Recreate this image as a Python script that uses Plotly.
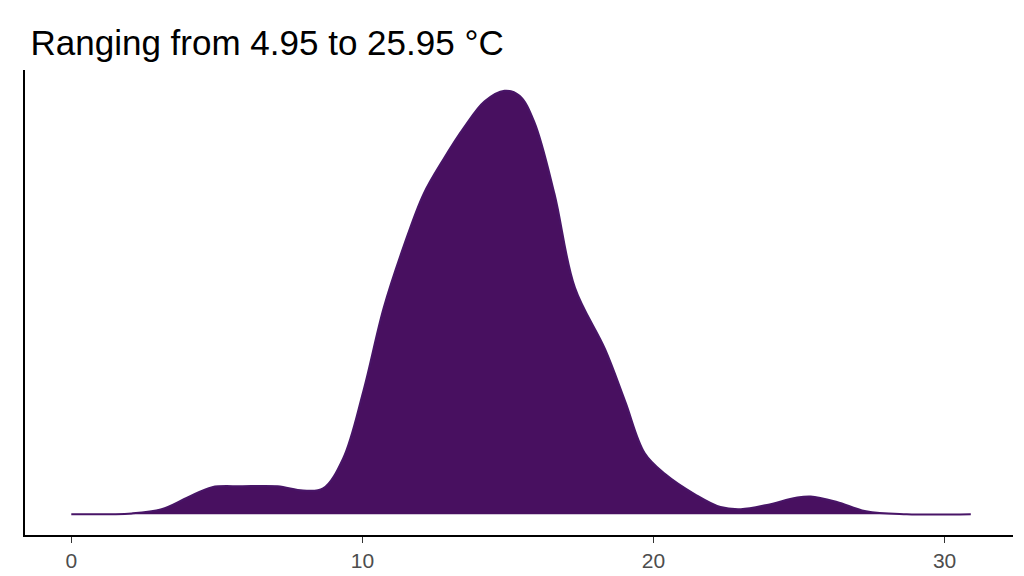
import plotly.graph_objects as go

temp = [0, 2.08, 3.1, 3.98, 4.84, 5.88, 7.09, 7.96, 8.65, 9.34, 10.03, 10.73, 11.42, 12.1, 12.8, 13.5, 14.2, 14.88, 15.4, 15.9, 16.6, 17.3, 18.34, 19.03, 19.7, 20.4, 21.45, 22.3, 23.0, 23.9, 24.9, 25.4, 26.3, 27.3, 28.7, 30.9]
density = [0, 0.002, 0.012, 0.039, 0.064, 0.066, 0.066, 0.056, 0.061, 0.132, 0.29, 0.487, 0.633, 0.756, 0.84, 0.914, 0.975, 1.0, 0.988, 0.927, 0.756, 0.535, 0.389, 0.266, 0.144, 0.095, 0.046, 0.017, 0.012, 0.022, 0.039, 0.042, 0.029, 0.007, 0, 0]
ticks = [0, 10, 20, 30]

fig = go.Figure(go.Scatter(x=temp, y=density, mode="lines", fill="tozeroy",
                           line=dict(color="#481567", width=2, shape="spline", smoothing=1.0),
                           fillcolor="#481060"))
fig.update_layout(
    width=1024, height=576, plot_bgcolor="white", paper_bgcolor="white",
    margin=dict(l=17, r=19, t=62, b=49), showlegend=False,
    title=dict(text="Ranging from 4.95 to 25.95 °C", x=0.022, xanchor="left", y=0.94, yanchor="middle",
               font=dict(family="Liberation Sans, Arial", size=35, color="black")),
    font=dict(family="Liberation Sans, Arial"),
)
fig.update_xaxes(range=[-1.59, 32.35], tickvals=ticks, showgrid=False, zeroline=False,
                 showline=True, linecolor="black", linewidth=2, ticks="outside", ticklen=6,
                 tickcolor="#333", tickfont=dict(size=21, color="#4d4d4d"))
fig.update_yaxes(range=[-0.049, 1.049], showticklabels=False, showgrid=False, zeroline=False,
                 showline=True, linecolor="black", linewidth=2)
fig.write_html("out.html")
